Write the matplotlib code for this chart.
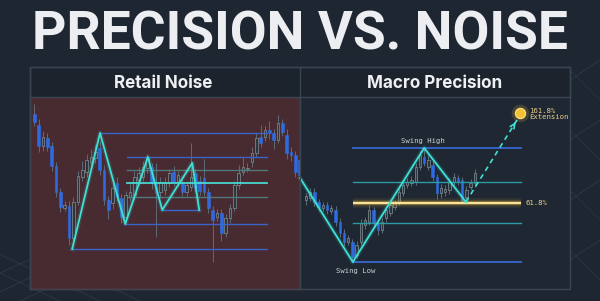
import matplotlib
matplotlib.use("Agg")
import matplotlib.pyplot as plt
from matplotlib.patches import Rectangle
import numpy as np

# ---------------- data ----------------
title = "PRECISION VS. NOISE"
left_title = "Retail Noise"
right_title = "Macro Precision"

# Left panel candles (price units)
l_open  = [175,164,143,151,143,123,97,81,83,51,87,112,117,127,131,141,119,89,86,106,91,72,92,94,109,112,121,122,106,97,99,106,117,107,106,97,102,116,108,111,97,79,72,76,56,71,81,104,117,120,127,136,152,152,159,156,149,166,154,137,134,129]
l_close = [167,143,152,142,123,97,82,84,51,87,113,119,129,132,137,119,89,79,101,92,72,94,97,112,116,122,131,106,96,107,106,116,107,114,97,104,112,101,98,97,81,69,76,56,71,81,104,116,122,121,136,151,146,159,156,149,166,157,136,134,117,114]
l_high  = [185,170,158,156,147,127,101,88,88,92,118,128,135,140,144,148,124,93,108,112,95,98,106,118,122,128,135,126,126,112,112,120,123,118,110,108,146,120,113,130,101,83,80,80,75,85,108,124,132,126,142,156,164,163,168,160,174,170,160,142,138,133]
l_low   = [163,137,138,138,118,92,77,78,44,48,84,108,112,122,126,114,84,70,80,88,66,68,88,90,104,108,116,100,52,92,94,102,103,103,93,93,98,97,94,93,76,27,68,48,52,66,78,100,114,117,122,132,142,148,150,140,146,153,130,128,112,110]

# Left zigzag (candle index, price)
l_zig_x = [8.7, 15.1, 20.9, 26.1, 29.4, 36.3, 37.9]
l_zig_y = [40, 156, 65, 132, 79, 126, 79]
# Left horizontal levels: price, start index, kind
l_lvl_price = [156, 132, 119, 106, 92, 65, 40]
l_lvl_start = [15.1, 21.3, 21.3, 21.3, 21.3, 20.9, 8.7]
l_lvl_kind  = ["blue", "blue", "grey", "cyan", "grey", "blue", "blue"]
l_lvl_end = 53.5

# Right panel candles
r_open  = [89,91,97,87,81,84,78,79,67,56,47,47,34,47,64,67,79,66,59,71,76,82,87,96,104,106,107,122,132,122,124,112,96,97,99,107,111,109,92,102,106]
r_close = [93,97,87,82,84,79,81,67,56,47,51,32,44,66,69,79,66,59,67,79,84,86,97,104,107,109,122,134,126,129,112,96,101,100,107,112,107,89,99,106,116]
r_high  = [96,101,101,90,87,87,84,83,71,60,54,50,48,70,72,84,82,69,71,83,88,89,100,108,111,113,126,138,141,134,128,115,105,104,111,116,114,112,103,110,120]
r_low   = [84,88,83,78,78,75,75,63,52,43,44,27,31,44,60,64,62,54,56,67,73,79,84,93,101,103,104,119,123,119,108,90,91,93,95,104,104,86,88,99,102]

r_zig_x = [-1.4, 11.1, 28.0, 37.9]
r_zig_y = [111, 27, 141, 87]
r_proj_x = [37.9, 50.0]
r_proj_y = [87, 169]
r_lvl_price = [141, 107, 86, 66, 27]
r_lvl_kind  = ["blue", "teal", "gold", "teal", "blue"]
r_lvl_start, r_lvl_end = 11.1, 50.9
swing_high = ("Swing High", 27.7, 148)
swing_low = ("Swing Low", 11.8, 18)
fib_label = ("61.8%", 51.9, 86)
ext_label = ("161.8%\nExtension", 52.8, 175)
coin = (50.7, 176)

# ---------------- style ----------------
BG = "#1e2631"
FRAME = "#3a4552"
BLUE = "#2f6be0"
HOLLOW = "#7d8b8f"
WICK = "#5d6b78"
CYAN = "#3fe0d6"
LVL = {"blue": "#3a66d0", "grey": "#4f7f80", "cyan": "#48e0d8", "teal": "#2a9aa6", "gold": "#f3cf5a"}

W, H = 600, 301
fig = plt.figure(figsize=(6.0, 3.01), dpi=100, facecolor=BG)

def fx(x): return x / W
def fy(y): return 1 - y / H

# background decorative lines
bg = fig.add_axes([0, 0, 1, 1])
bg.set_xlim(0, W); bg.set_ylim(H, 0); bg.axis("off")
for x0 in [-60, -20, 20]:
    bg.plot([x0, x0 + 110], [301, 250], color="#3a4654", lw=0.6, alpha=0.6)
    bg.plot([x0 + 10, x0 + 120], [250, 301], color="#3a4654", lw=0.6, alpha=0.5)
for y0 in [60, 120, 180, 240]:
    bg.plot([570, 600], [y0 + 20, y0], color="#3a4654", lw=0.6, alpha=0.6)
    bg.plot([570, 600], [y0 + 10, y0 + 40], color="#3a4654", lw=0.6, alpha=0.5)

fig.text(0.5, fy(50), title, ha="center", va="baseline", color="#eceef2",
         fontsize=38.5, fontweight="bold", family="Roboto")

# panel frame
fig.patches.append(Rectangle((fx(30), fy(289)), fx(540), 222 / H, transform=fig.transFigure,
                             facecolor="none", edgecolor=FRAME, lw=1.0, zorder=5))
fig.patches.append(Rectangle((fx(30), fy(97)), fx(540), 30 / H, transform=fig.transFigure,
                             facecolor="#1c232d", edgecolor=FRAME, lw=1.0, zorder=0))
fig.lines.append(plt.Line2D([fx(300), fx(300)], [fy(289), fy(67)], transform=fig.transFigure,
                            color=FRAME, lw=1.0))
fig.text(fx(163), fy(88), left_title, ha="center", va="baseline", color="#eef0f3",
         fontsize=12.3, fontweight="bold", family="Inter")
fig.text(fx(434.5), fy(88), right_title, ha="center", va="baseline", color="#eef0f3",
         fontsize=12.3, fontweight="bold", family="Inter")

def candles(ax, o, c, h, l, width):
    x = np.arange(len(o))
    o = np.array(o); c = np.array(c)
    ax.vlines(x, l, h, color=WICK, lw=0.7, zorder=2)
    bear = c < o
    ax.bar(x[bear], (o - c)[bear], bottom=c[bear], width=width, color=BLUE,
           edgecolor=BLUE, lw=0.4, zorder=3)
    ax.bar(x[~bear], (c - o)[~bear], bottom=o[~bear], width=width, color="#2a333c",
           edgecolor=HOLLOW, lw=0.6, zorder=3, alpha=0.9)

# ---- left panel ----
axL = fig.add_axes([fx(30), fy(289), fx(270), 192 / H])
axL.set_xlim(-1.0, 61.07); axL.set_ylim(0, 192)
axL.set_facecolor("#482a31")
for s in axL.spines.values():
    s.set_color("#7d3a42"); s.set_linewidth(1.0)
axL.set_xticks([]); axL.set_yticks([])
candles(axL, l_open, l_close, l_high, l_low, 0.6)
for p, s0, k in zip(l_lvl_price, l_lvl_start, l_lvl_kind):
    lw = 1.3 if k == "cyan" else 1.0
    axL.plot([s0, l_lvl_end], [p, p], color=LVL[k], lw=lw, zorder=4, alpha=0.95)
axL.plot([l_zig_x[4], l_zig_x[6]], [l_zig_y[4], l_zig_y[6]], color=LVL["blue"], lw=1.0, zorder=4)
axL.plot(l_zig_x, l_zig_y, color=CYAN, lw=3.5, alpha=0.15, zorder=5)
axL.plot(l_zig_x, l_zig_y, color=CYAN, lw=1.3, zorder=6)

# ---- right panel ----
axR = fig.add_axes([fx(300), fy(289), fx(270), 192 / H])
axR.set_xlim(-1.42, 62.56); axR.set_ylim(0, 192)
axR.set_facecolor("#1f2832")
for s in axR.spines.values():
    s.set_visible(False)
axR.set_xticks([]); axR.set_yticks([])
candles(axR, r_open, r_close, r_high, r_low, 0.55)
for p, k in zip(r_lvl_price, r_lvl_kind):
    if k == "gold":
        for lw, a in [(7, 0.08), (4.5, 0.15), (2.8, 0.35)]:
            axR.plot([r_lvl_start, r_lvl_end], [p, p], color="#f0c040", lw=lw, alpha=a, zorder=4,
                     solid_capstyle="butt")
        axR.plot([r_lvl_start, r_lvl_end], [p, p], color="#fbe7a0", lw=1.4, zorder=4,
                 solid_capstyle="butt")
    else:
        lw = 1.3 if k == "blue" else 1.0
        axR.plot([r_lvl_start, r_lvl_end], [p, p], color=LVL[k], lw=lw, zorder=4)
axR.plot(r_zig_x, r_zig_y, color=CYAN, lw=3.5, alpha=0.15, zorder=5, clip_on=False)
axR.plot(r_zig_x, r_zig_y, color=CYAN, lw=1.3, zorder=6, clip_on=False)
axR.plot(r_proj_x, r_proj_y, color=CYAN, lw=1.2, ls=(0, (3, 2.5)), zorder=6)
axR.annotate("", xy=(r_proj_x[1], r_proj_y[1]),
             xytext=(r_proj_x[1] - 0.9, r_proj_y[1] - 6),
             arrowprops=dict(arrowstyle="->", color=CYAN, lw=1.2, mutation_scale=8), zorder=6)
# coin
axR.scatter([coin[0]], [coin[1]], s=160, color="#f0c040", alpha=0.18, zorder=6, lw=0)
axR.scatter([coin[0]], [coin[1]], s=55, color="#f2c232", edgecolor="#ffe08a", lw=0.8, zorder=7)
mono = "DejaVu Sans Mono"
axR.text(swing_high[1], swing_high[2], swing_high[0], ha="center", va="center",
         color="#c9cfd6", fontsize=5.2, family=mono, zorder=8)
axR.text(swing_low[1], swing_low[2], swing_low[0], ha="center", va="center",
         color="#c9cfd6", fontsize=5.2, family=mono, zorder=8)
axR.text(fib_label[1], fib_label[2], fib_label[0], ha="left", va="center",
         color="#e6cf8a", fontsize=5.2, family=mono, zorder=8)
axR.text(ext_label[1], ext_label[2], ext_label[0], ha="left", va="center",
         color="#e6cf8a", fontsize=5.2, family=mono, zorder=8, linespacing=1.1)

fig.savefig("out.png", dpi=100, facecolor=BG)
